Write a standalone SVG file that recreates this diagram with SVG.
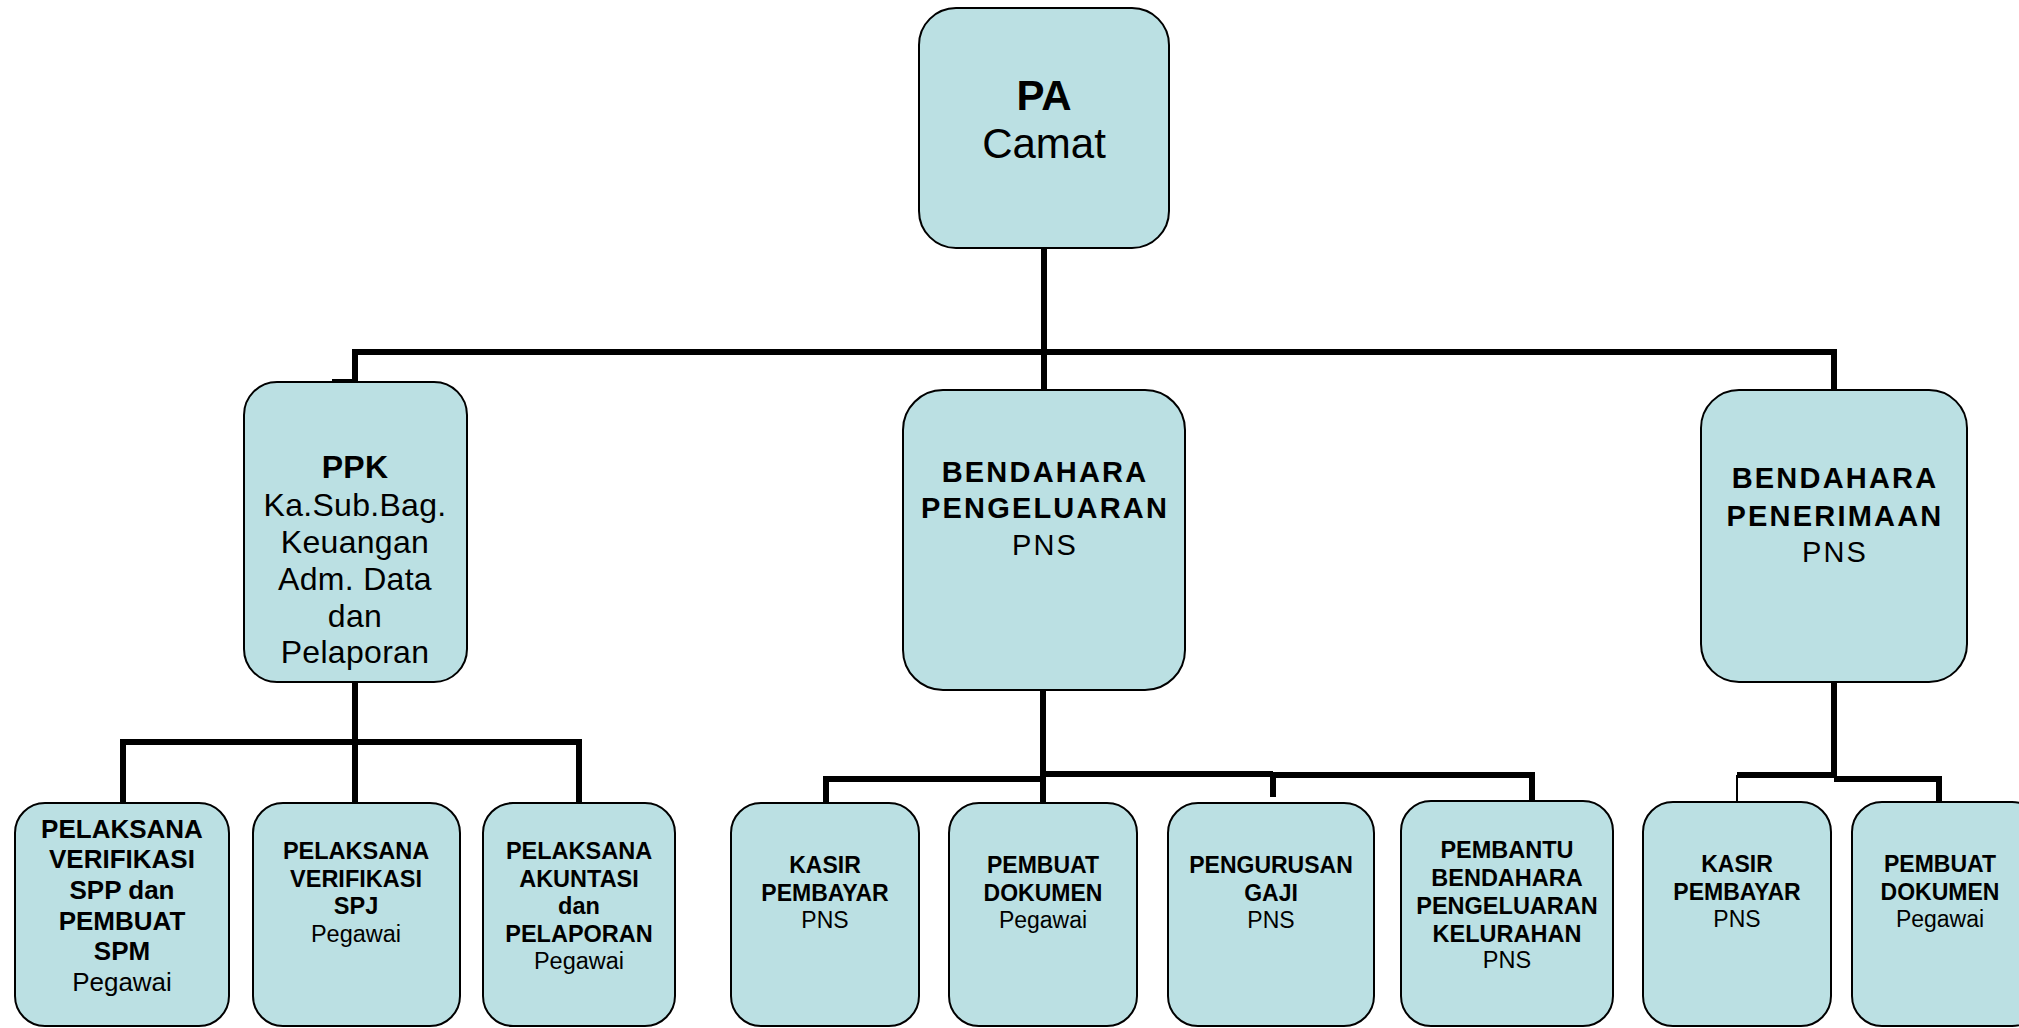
<svg xmlns="http://www.w3.org/2000/svg" width="2019" height="1028" viewBox="0 0 2019 1028">
<style>
.box{fill:#BBE0E3;stroke:#000;stroke-width:2}
.c{fill:none;stroke:#000;stroke-width:6;stroke-linejoin:miter;stroke-linecap:butt}
.thin{fill:none;stroke:#000;stroke-width:2}
text{font-family:"Liberation Sans",Arial,sans-serif;fill:#000;text-anchor:middle}
.b{font-weight:bold}
.big{font-size:42px}
.ppk{font-size:32px;letter-spacing:0.3px}
.mid{font-size:29px;letter-spacing:2.2px}
.s1{font-size:26px}
.s2{font-size:23.5px}
.s3{font-size:23px}
</style>
<rect width="2019" height="1028" fill="#fff"/>
<g id="connectors">
<path class="c" d="M1044 248 V390"/>
<path class="c" d="M355 382 V352 H1834 V390"/>
<path class="c" d="M332 382 H358"/>
<path class="c" d="M355 682 V803"/>
<path class="c" d="M123 803 V742 H579 V803"/>
<path class="c" d="M1043 690 V803"/>
<path class="c" d="M826 803 V779 H1043"/>
<path class="c" d="M1043 774 H1273"/>
<path class="c" d="M1273 797 V775 H1532 V801"/>
<path class="c" d="M1834 682 V778"/>
<path class="c" d="M1737 775 H1834"/>
<path class="thin" d="M1737 775 V802"/>
<path class="c" d="M1834 779 H1939 V802"/>
</g>
<g id="pa">
<rect class="box" x="919" y="8" width="250" height="240" rx="37"/>
<text class="big b" x="1044" y="110">PA</text>
<text class="big" x="1044" y="158">Camat</text>
</g>
<g id="ppk">
<rect class="box" x="244" y="382" width="223" height="300" rx="33"/>
<text class="ppk b" x="355" y="478">PPK</text>
<text class="ppk" x="355" y="516">Ka.Sub.Bag.</text>
<text class="ppk" x="355" y="553">Keuangan</text>
<text class="ppk" x="355" y="590">Adm. Data</text>
<text class="ppk" x="355" y="627">dan</text>
<text class="ppk" x="355" y="663">Pelaporan</text>
</g>
<g id="bendahara-pengeluaran">
<rect class="box" x="903" y="390" width="282" height="300" rx="40"/>
<text class="mid b" x="1045" y="482">BENDAHARA</text>
<text class="mid b" x="1045" y="518">PENGELUARAN</text>
<text class="mid" x="1045" y="555">PNS</text>
</g>
<g id="bendahara-penerimaan">
<rect class="box" x="1701" y="390" width="266" height="292" rx="38"/>
<text class="mid b" x="1835" y="488">BENDAHARA</text>
<text class="mid b" x="1835" y="526">PENERIMAAN</text>
<text class="mid" x="1835" y="562">PNS</text>
</g>
<g id="pelaksana-verifikasi-spp">
<rect class="box" x="15" y="803" width="214" height="223" rx="30"/>
<text class="s1 b" x="122" y="838">PELAKSANA</text>
<text class="s1 b" x="122" y="868">VERIFIKASI</text>
<text class="s1 b" x="122" y="899">SPP dan</text>
<text class="s1 b" x="122" y="930">PEMBUAT</text>
<text class="s1 b" x="122" y="960">SPM</text>
<text class="s1" x="122" y="991">Pegawai</text>
</g>
<g id="pelaksana-verifikasi-spj">
<rect class="box" x="253" y="803" width="207" height="223" rx="30"/>
<text class="s2 b" x="356" y="859">PELAKSANA</text>
<text class="s2 b" x="356" y="887">VERIFIKASI</text>
<text class="s2 b" x="356" y="914">SPJ</text>
<text class="s2" x="356" y="942">Pegawai</text>
</g>
<g id="pelaksana-akuntasi">
<rect class="box" x="483" y="803" width="192" height="223" rx="30"/>
<text class="s2 b" x="579" y="859">PELAKSANA</text>
<text class="s2 b" x="579" y="887">AKUNTASI</text>
<text class="s2 b" x="579" y="914">dan</text>
<text class="s2 b" x="579" y="942">PELAPORAN</text>
<text class="s2" x="579" y="969">Pegawai</text>
</g>
<g id="kasir-pembayar-1">
<rect class="box" x="731" y="803" width="188" height="223" rx="30"/>
<text class="s3 b" x="825" y="873">KASIR</text>
<text class="s3 b" x="825" y="901">PEMBAYAR</text>
<text class="s3" x="825" y="928">PNS</text>
</g>
<g id="pembuat-dokumen-1">
<rect class="box" x="949" y="803" width="188" height="223" rx="30"/>
<text class="s3 b" x="1043" y="873">PEMBUAT</text>
<text class="s3 b" x="1043" y="901">DOKUMEN</text>
<text class="s3" x="1043" y="928">Pegawai</text>
</g>
<g id="pengurusan-gaji">
<rect class="box" x="1168" y="803" width="206" height="223" rx="30"/>
<text class="s3 b" x="1271" y="873">PENGURUSAN</text>
<text class="s3 b" x="1271" y="901">GAJI</text>
<text class="s3" x="1271" y="928">PNS</text>
</g>
<g id="pembantu-bendahara">
<rect class="box" x="1401" y="801" width="212" height="225" rx="30"/>
<text class="s2 b" x="1507" y="858">PEMBANTU</text>
<text class="s2 b" x="1507" y="886">BENDAHARA</text>
<text class="s2 b" x="1507" y="914">PENGELUARAN</text>
<text class="s2 b" x="1507" y="942">KELURAHAN</text>
<text class="s2" x="1507" y="968">PNS</text>
</g>
<g id="kasir-pembayar-2">
<rect class="box" x="1643" y="802" width="188" height="224" rx="30"/>
<text class="s3 b" x="1737" y="872">KASIR</text>
<text class="s3 b" x="1737" y="900">PEMBAYAR</text>
<text class="s3" x="1737" y="927">PNS</text>
</g>
<g id="pembuat-dokumen-2">
<rect class="box" x="1852" y="802" width="190" height="224" rx="30"/>
<text class="s3 b" x="1940" y="872">PEMBUAT</text>
<text class="s3 b" x="1940" y="900">DOKUMEN</text>
<text class="s3" x="1940" y="927">Pegawai</text>
</g>
</svg>
